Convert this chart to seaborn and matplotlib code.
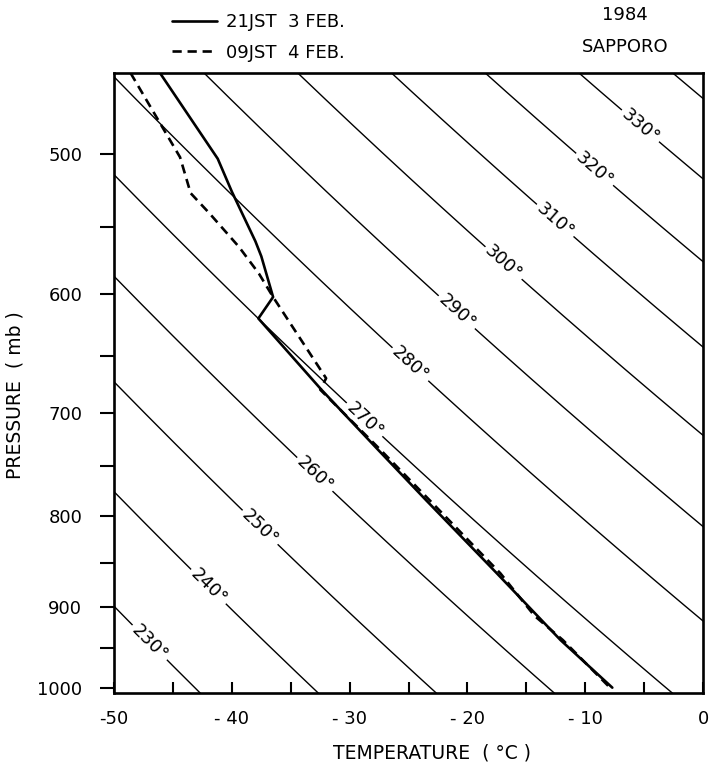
import numpy as np
import pandas as pd
import seaborn as sns
import matplotlib.pyplot as plt
from matplotlib.ticker import FixedLocator, NullFormatter

# soundings (temperature in deg C, pressure in mb)
run_solid = "21JST  3 FEB."
solid_t = [-46.1, -41.2, -40.0, -38.0, -37.5, -36.5, -37.75, -32.4, -27.6, -23.5, -17.5, -12.1, -7.7]
solid_p = [450, 503, 525, 560, 571, 602, 619, 679, 734, 784, 862, 940, 1000]

run_dashed = "09JST  4 FEB."
dashed_t = [-48.6, -44.4, -43.5, -41.9, -39.4, -37.7, -36.5, -32.0, -32.5, -27.4, -23.2, -17.2, -14.3, -11.9, -7.9]
dashed_p = [450, 502, 526, 540, 564, 584, 602, 669, 679, 734, 784, 862, 911, 940, 1000]

# dry adiabats (potential temperature, K) and where their labels sit
theta_levels = [230, 240, 250, 260, 270, 280, 290, 300, 310, 320, 330, 340]
label_levels = [230, 240, 250, 260, 270, 280, 290, 300, 310, 320, 330]
label_p = [943, 877, 812, 758, 706, 657, 614, 576, 545, 510, 482]

x_ticks = [-50, -40, -30, -20, -10, 0]
x_ticklabels = ["-50", "- 40", "- 30", "- 20", "- 10", "0"]
x_minor = [-45, -35, -25, -15, -5]
y_ticks = [500, 600, 700, 800, 900, 1000]
y_minor = [550, 650, 750, 850, 950]

sns.set_style("ticks")
plt.rcParams['font.family'] = ['DejaVu Sans']
plt.rcParams.update({'text.color': 'black', 'axes.labelcolor': 'black', 'axes.edgecolor': 'black',
                     'xtick.color': 'black', 'ytick.color': 'black'})

fig = plt.figure(figsize=(7.13, 7.72), dpi=100)
ax = fig.add_axes([0.160, 0.1023, 0.826, 0.8031])
ax.set_yscale('log')
ax.set_xlim(-50, 0)
ax.set_ylim(1007, 450)

kappa = 0.286
p_line = np.geomspace(430, 1030, 200)
for th in theta_levels:
    ax.plot(th * (p_line / 1000) ** kappa - 273.15, p_line, color='black', lw=1.0, zorder=1)

# label rotation follows the adiabat on screen
for th, pl in zip(label_levels, label_p):
    t0 = th * (pl / 1000) ** kappa - 273.15
    t1 = th * ((pl + 5) / 1000) ** kappa - 273.15
    a = ax.transData.transform((t0, pl))
    b = ax.transData.transform((t1, pl + 5))
    ang = np.degrees(np.arctan2(b[1] - a[1], b[0] - a[0]))
    ax.text(t0, pl, f"{th}°", rotation=ang, rotation_mode='anchor', ha='center', va='center',
            fontsize=13, zorder=2,
            bbox=dict(facecolor='white', edgecolor='none', pad=2))

df = pd.DataFrame({
    "T": solid_t + dashed_t,
    "p": solid_p + dashed_p,
    "run": [run_solid] * len(solid_t) + [run_dashed] * len(dashed_t),
})
sns.lineplot(data=df, x="T", y="p", style="run", color="black", sort=False, estimator=None,
             dashes={run_solid: "", run_dashed: (3.5, 2.2)}, lw=1.9, ax=ax, zorder=4)

sns.move_legend(ax, "upper left", bbox_to_anchor=(0.228, 0.995), bbox_transform=fig.transFigure,
                frameon=False, title=None, fontsize=13, handlelength=2.5, handletextpad=0.5,
                labelspacing=0.7, borderpad=0)

fig.text(0.877, 0.981, "1984", ha='center', va='center', fontsize=13)
fig.text(0.877, 0.939, "SAPPORO", ha='center', va='center', fontsize=13)

ax.set_xticks(x_ticks)
ax.set_xticklabels(x_ticklabels)
ax.xaxis.set_minor_locator(FixedLocator(x_minor))
ax.set_yticks(y_ticks)
ax.set_yticklabels([str(v) for v in y_ticks])
ax.yaxis.set_minor_locator(FixedLocator(y_minor))
ax.yaxis.set_minor_formatter(NullFormatter())

ax.tick_params(axis='x', which='both', direction='in', length=8, width=1.5, pad=12, labelsize=13)
ax.tick_params(axis='y', which='both', direction='out', length=10, width=1.5, pad=13, labelsize=13)

for s in ax.spines.values():
    s.set_linewidth(1.9)
    s.set_visible(True)

ax.set_xlabel("TEMPERATURE  ( °C )", fontsize=13.5)
ax.set_ylabel("PRESSURE  ( mb )", fontsize=13.5)
ax.xaxis.set_label_coords(0.54, -0.082)
ax.yaxis.set_label_coords(-0.152, 0.48)

fig.savefig("out.png", dpi=100)
